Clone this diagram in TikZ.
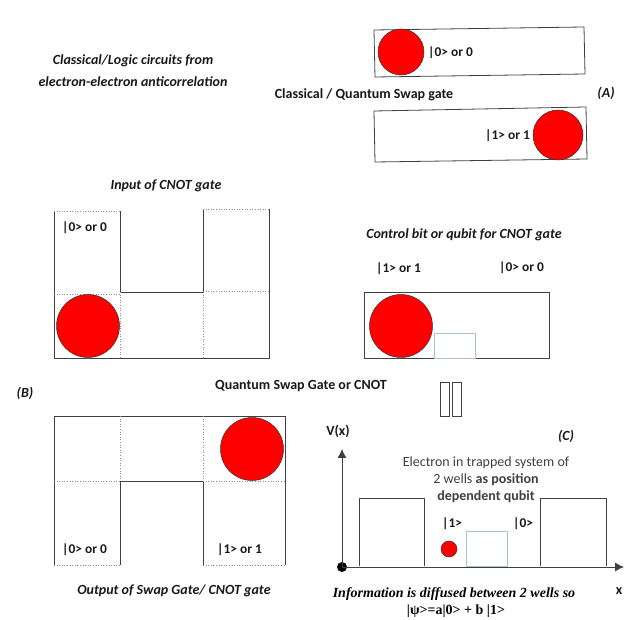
\documentclass[tikz,border=0pt]{standalone}
\usepackage{fontspec}
\setmainfont{Carlito}
\newfontfamily\serifinfo{Liberation Serif}
\tikzset{
  lab/.style={font=\fontsize{14}{16}\selectfont\bfseries,text=black!90,inner sep=0pt,yshift=-1.2pt},
  ket/.style={font=\fontsize{13.4}{16}\selectfont\bfseries,text=black!90,inner sep=0pt,anchor=west,xshift=-1pt,yshift=-1pt},
  ilab/.style={font=\fontsize{14}{16}\selectfont\bfseries\itshape,text=black!90,inner sep=0pt,yshift=-1.2pt},
  plain/.style={font=\fontsize{14}{16}\selectfont,text=black!75,inner sep=0pt,yshift=-0.6pt},
  info/.style={font=\fontsize{14}{16}\selectfont\serifinfo\bfseries\itshape,inner sep=0pt},
  psi/.style={font=\fontsize{14}{16}\selectfont\serifinfo\bfseries,inner sep=0pt},
  wall/.style={draw=black!75,line width=0.8pt},
  dots/.style={draw=black!45,line width=0.6pt,dotted},
  ball/.style={circle,draw=black!80,fill=red,line width=0.5pt,minimum size=#1,inner sep=0pt},
  well/.style={draw=cyan!50!black!40!white,line width=0.8pt},
  axis/.style={draw=black!75,line width=0.9pt,-{Latex[length=9pt,width=9pt]}}
}
\usetikzlibrary{arrows.meta}
\begin{document}
\begin{tikzpicture}[x=1pt,y=-1pt]
\useasboundingbox (0,0) rectangle (638,620);
% --- top-left
\node[ilab] (tl1) at (133,60) {Classical/Logic circuits from};
\node[ilab] (tl2) at (133,80) {electron-electron anticorrelation};
% --- (A)
\draw[wall] (374,30) -- (584,27) -- (585,74) -- (375,77) -- cycle;
\node[ball=46pt] (a0) at (401,52) {};
\node[ket] (a0t) at (429,52) {|0> or 0};
\node[lab] (at) at (364,94) {Classical / Quantum Swap gate};
\node[ilab] (ta) at (606,92) {(A)};
\draw[wall] (374,111) -- (586,107) -- (587,159) -- (375,162) -- cycle;
\node[ball=50pt] (a1) at (558,135) {};
\node[ket] (a1t) at (486,135) {|1> or 1};
% --- (B) input
\node[ilab] (bt) at (166,185) {Input of CNOT gate};
\draw[wall] (54,211) -- (54,358) -- (269,358) -- (269,209);
\draw[wall] (120,211) -- (120,292) -- (203,292) -- (203,209);
\draw[dots] (54,211) -- (120,211) (203,209) -- (269,209) (54,294) -- (120,294) (203,291) -- (269,291) (120,292) -- (120,358) (203,292) -- (203,358);
\node[ball=63pt] (b0) at (88,326) {};
\node[ket] (b0t) at (63,227) {|0> or 0};
\node[ilab] (tb) at (25,392) {(B)};
% --- control
\node[ilab] (ct) at (464,234) {Control bit or qubit for CNOT gate};
\node[ket] (c1t) at (377,268) {|1> or 1};
\node[ket] (c0t) at (500,267) {|0> or 0};
\draw[wall] (364,292) rectangle (549,358);
\draw[well] (434,333) rectangle (475,358);
\node[ball=63pt] (c0) at (401,326) {};
\node[lab] (qs) at (301,385) {Quantum Swap Gate or CNOT};
\draw[wall] (440,382) rectangle (449,416);
\draw[wall] (452,382) rectangle (461,416);
% --- output
\draw[wall] (54,565) -- (54,416) -- (285,416) -- (285,565);
\draw[wall] (120,565) -- (120,481) -- (203,481) -- (203,565);
\draw[dots] (54,565) -- (120,565) (203,565) -- (285,565) (54,481) -- (120,481) (203,481) -- (285,481) (120,416) -- (120,481) (203,416) -- (203,481);
\node[ball=63pt] (o1) at (252,449) {};
\node[ket] (o0t) at (63,549) {|0> or 0};
\node[ket] (o1t) at (218,549) {|1> or 1};
\node[ilab] (ot) at (174,590) {Output of Swap Gate/ CNOT gate};
% --- (C)
\node[ilab] (tc) at (566,435) {(C)};
\node[lab] (vx) at (338,430) {V(x)};
\node[lab] (xl) at (619,590) {x};
\node[circle,fill=black,minimum size=10pt,inner sep=0pt] (org) at (342,567) {};
\coordinate (ytop) at (342,449);
\coordinate (xend) at (624,567);
\draw[axis] (org.center) -- (ytop);
\draw[axis] (org.center) -- (xend);
\draw[wall] (359,566) -- (359,498) -- (424,498) -- (424,566);
\draw[wall] (540,566) -- (540,498) -- (606,498) -- (606,566);
\draw[well] (466,531) rectangle (507,566);
\node[ball=16pt] (e) at (449,549) {};
\node[ket] (e1) at (443,523) {|1>};
\node[ket] (e0) at (514,523) {|0>};
\node[plain] (l1) at (486,462) {Electron in trapped system of};
\node[plain] (l2) at (486,479) {2 wells \textbf{as position}};
\node[plain] (l3) at (486,496) {\textbf{dependent qubit}};
\node[info] (i1) at (454,594) {Information is diffused between 2 wells so};
\node[psi] (i2) at (456,611) {|ψ>=a|0> + b |1>};
\end{tikzpicture}
\end{document}
